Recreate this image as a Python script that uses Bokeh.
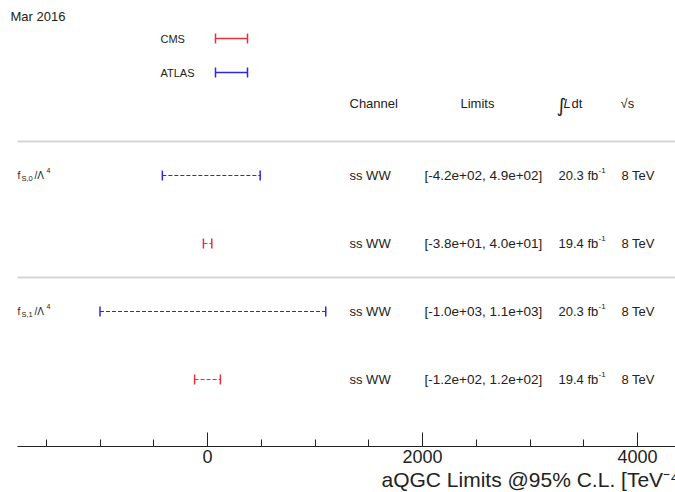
from bokeh.plotting import figure
from bokeh.models import (Range1d, Whisker, TeeHead, ColumnDataSource,
                          SingleIntervalTicker, Title)
from bokeh.core.properties import value
from bokeh.embed import file_html
from bokeh.resources import INLINE

# ---- data -----------------------------------------------------------------
experiments = ["ATLAS", "CMS", "ATLAS", "CMS"]
operator_idx = ["S,0", "", "S,1", ""]
lower = [-420, -38, -1000, -120]
upper = [490, 40, 1100, 120]
channels = ["ss WW", "ss WW", "ss WW", "ss WW"]
lumi = ["20.3", "19.4", "20.3", "19.4"]
energy = ["8 TeV", "8 TeV", "8 TeV", "8 TeV"]
legend_entries = ["CMS", "ATLAS"]

colors = {"CMS": "#e8303c", "ATLAS": "#2a2ae0"}
FONT = value("Liberation Sans")

# ---- layout helpers -------------------------------------------------------
W, H = 675, 492
FRAME_H = 446
X0_PX, PX_PER_UNIT = 207.0, 215.0 / 2000.0   # pixel of x=0, pixels per unit
ROW0_PX, ROW_PX = 175.0, 68.0                 # pixel of first row, row pitch


def xd(px):
    return (px - X0_PX) / PX_PER_UNIT


def yd(py):
    return (py - ROW0_PX) / ROW_PX


p = figure(width=W, height=H, output_backend="svg", toolbar_location=None,
           x_range=Range1d(xd(0), xd(W)), y_range=Range1d(yd(FRAME_H), yd(0)),
           y_axis_location=None, min_border_left=0, min_border_right=0,
           min_border_top=0, min_border_bottom=H - FRAME_H)
p.outline_line_color = None
p.grid.visible = False
p.background_fill_color = "white"
p.border_fill_color = "white"

rows = list(range(len(experiments)))

# separators between operator groups
p.segment(x0=xd(17), x1=xd(W), y0=[-0.5, 1.5], y1=[-0.5, 1.5],
          line_color="#d6d6d6", line_width=2)

# limit bars
for exp in ["ATLAS", "CMS"]:
    idx = [i for i in rows if experiments[i] == exp]
    src = ColumnDataSource(dict(base=[rows[i] for i in idx],
                                lower=[lower[i] for i in idx],
                                upper=[upper[i] for i in idx]))
    c = colors[exp]
    w = Whisker(source=src, base="base", lower="lower", upper="upper",
                dimension="width", line_color=c, line_width=1.2, line_dash="4 2",
                lower_head=TeeHead(size=10, line_color=c, line_width=1.5),
                upper_head=TeeHead(size=10, line_color=c, line_width=1.5))
    p.add_layout(w)

# legend
leg_y = [yd(38), yd(72)]
p.text(x=[xd(160)] * 2, y=leg_y, text=legend_entries, text_font=FONT,
       text_font_size="11px", text_baseline="middle", text_color="#222")
for name, yy in zip(legend_entries, leg_y):
    c = colors[name]
    src = ColumnDataSource(dict(base=[yy], lower=[xd(215)], upper=[xd(247)]))
    p.add_layout(Whisker(source=src, base="base", lower="lower", upper="upper",
                         dimension="width", line_color=c, line_width=1.5,
                         lower_head=TeeHead(size=10, line_color=c, line_width=1.5),
                         upper_head=TeeHead(size=10, line_color=c, line_width=1.5)))

# header row
hy = yd(103)
txt = dict(text_font=FONT, text_font_size="13px", text_baseline="middle",
           text_color="#222")
p.text(x=[xd(349), xd(460)], y=[hy, hy], text=["Channel", "Limits"], **txt)
p.text(x=[xd(556)], y=[hy + 0.02], text=["∫"], text_font=value("DejaVu Sans"),
       text_font_size="19px", text_baseline="middle", text_color="#222")
p.text(x=[xd(563)], y=[hy], text=["L"], text_font=FONT, text_font_size="13px",
       text_font_style="italic", text_baseline="middle", text_color="#222")
p.text(x=[xd(571)], y=[hy], text=["dt"], **txt)
p.text(x=[xd(620)], y=[hy], text=["√s"], **txt)

# table rows
limit_text = [f"[{lo:.1e}, {hi:.1e}]" for lo, hi in zip(lower, upper)]
p.text(x=[xd(349)] * 4, y=rows, text=channels, **txt)
p.text(x=[xd(424)] * 4, y=rows, text=limit_text, text_font=FONT,
       text_font_size="13.5px", text_baseline="middle", text_color="#222")
p.text(x=[xd(558)] * 4, y=rows, text=[f"{l} fb" for l in lumi], **txt)
p.text(x=[xd(598)] * 4, y=[r - 0.07 for r in rows], text=["-1"] * 4,
       text_font=FONT, text_font_size="8px", text_baseline="middle",
       text_color="#222")
p.text(x=[xd(621)] * 4, y=rows, text=energy, **txt)

# operator labels f_{S,i}/Λ^4
op_rows = [r for r in rows if operator_idx[r]]
op_sub = [operator_idx[r] for r in op_rows]
small = dict(text_font=FONT, text_baseline="middle", text_color="#222")
p.text(x=[xd(17)] * 2, y=op_rows, text=["f"] * 2, text_font_size="10px", **small)
p.text(x=[xd(21)] * 2, y=[r + 0.05 for r in op_rows], text=op_sub,
       text_font_size="7.5px", **small)
p.text(x=[xd(34)] * 2, y=op_rows, text=["/Λ"] * 2, text_font_size="10px", **small)
p.text(x=[xd(46)] * 2, y=[r - 0.07 for r in op_rows], text=["4"] * 2,
       text_font_size="7px", **small)

# date stamp
p.text(x=[xd(10)], y=[yd(16)], text=["Mar 2016"], **txt)

# x axis
ax = p.xaxis[0]
ax.ticker = SingleIntervalTicker(interval=2000, num_minor_ticks=4)
ax.bounds = (xd(17), xd(W))
ax.axis_line_color = "#222"
ax.major_tick_line_color = "#222"
ax.minor_tick_line_color = "#222"
ax.major_tick_in, ax.major_tick_out = 14, 0
ax.minor_tick_in, ax.minor_tick_out = 7, 0
ax.major_label_text_font = "Liberation Sans"
ax.major_label_text_font_size = "18px"
ax.major_label_text_color = "#222"
ax.major_label_standoff = 3

# axis title, placed below the tick labels and starting right of centre
p.add_layout(Title(text="aQGC Limits @95% C.L. [TeV⁻⁴]", align="left",
                   offset=381, standoff=0, text_font="Liberation Sans",
                   text_font_size="21px", text_font_style="normal",
                   text_color="#222"), "below")

open("out.html", "w").write(file_html(p, INLINE))
